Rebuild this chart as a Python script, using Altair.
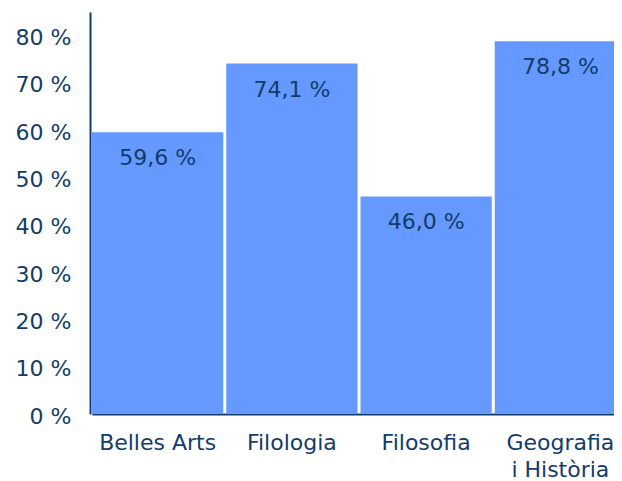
import altair as alt
import pandas as pd

categories = ["Belles Arts", "Filologia", "Filosofia", "Geografia i Història"]
values = [59.6, 74.1, 46.0, 78.8]
y_ticks = [0, 10, 20, 30, 40, 50, 60, 70, 80]

df = pd.DataFrame({"cat": categories, "val": values})
df["label"] = [f"{v:.1f}".replace(".", ",") + " %" for v in values]

navy = "#123c69"
bar_color = "#6699ff"
font = "DejaVu Sans"

x_enc = alt.X(
    "cat:N",
    sort=categories,
    scale=alt.Scale(range=[2, 536], paddingInner=0.022, paddingOuter=0),
    axis=alt.Axis(
        title=None,
        labelAngle=0,
        labelFont=font,
        labelFontSize=22,
        labelColor=navy,
        labelPadding=18,
        labelLineHeight=27,
        labelExpr="datum.label == 'Geografia i Història' ? ['Geografia', 'i Història'] : datum.label",
        ticks=False,
        tickSize=0,
        domainColor=navy,
        domainWidth=2,
        grid=False,
    ),
)
y_enc = alt.Y(
    "val:Q",
    scale=alt.Scale(domain=[0, 85], nice=False),
    axis=alt.Axis(
        title=None,
        values=y_ticks,
        labelExpr="datum.value + ' %'",
        labelFont=font,
        labelFontSize=22,
        labelColor=navy,
        labelPadding=19,
        labelOffset=2,
        ticks=False,
        tickSize=0,
        domainColor=navy,
        domainWidth=2,
        grid=False,
    ),
)

bars = alt.Chart(df).mark_bar(color=bar_color).encode(x=x_enc, y=y_enc)
texts = alt.Chart(df).mark_text(
    font=font, fontSize=22, color=navy, baseline="alphabetic", dy=33
).encode(x=alt.X("cat:N", sort=categories), y="val:Q", text="label:N")

chart = (
    alt.layer(bars, texts)
    .properties(
        width=524,
        height=402,
        autosize=alt.AutoSizeParams(type="none"),
        padding={"left": 82, "top": 4, "right": 0, "bottom": 67},
    )
    .configure_view(stroke=None)
)

chart.save("out.html", embed_options={"renderer": "svg", "actions": False})
